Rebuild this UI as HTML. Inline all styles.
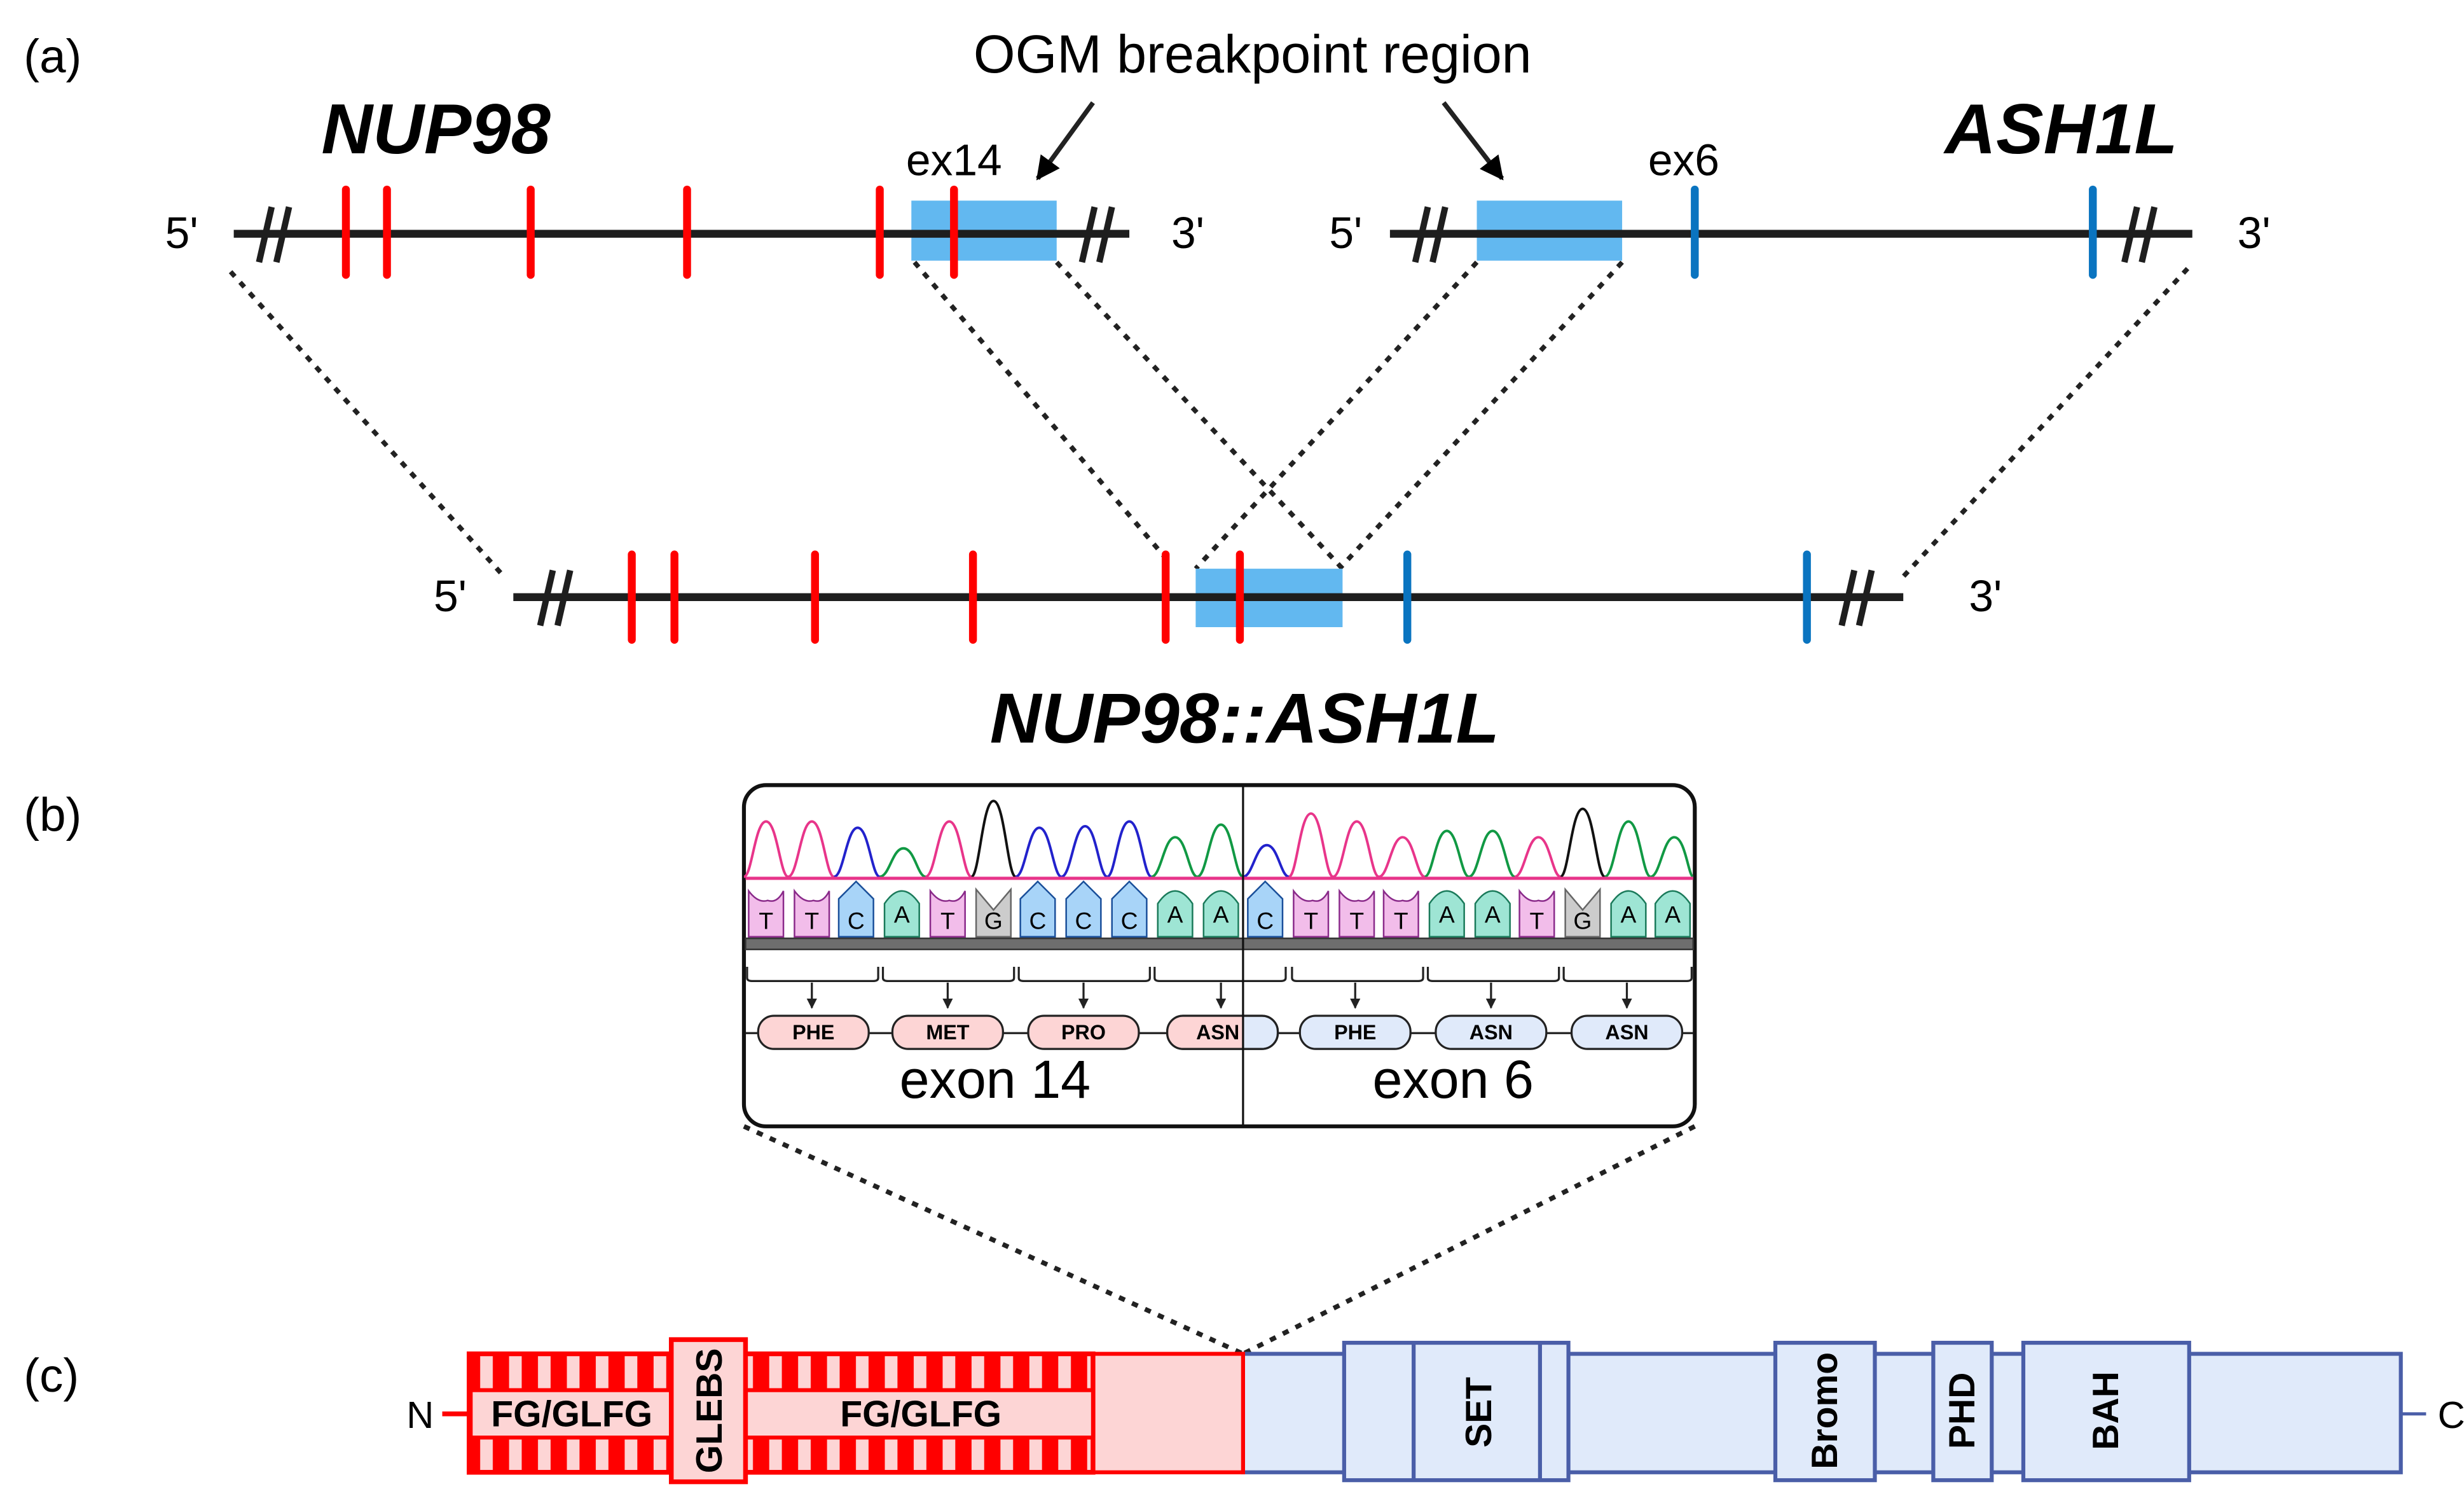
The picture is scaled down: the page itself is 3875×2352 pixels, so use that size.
<!DOCTYPE html>
<html><head><meta charset="utf-8"><style>
html,body{margin:0;padding:0;background:#fff;}
svg{display:block;}
text{font-family:"Liberation Sans",sans-serif;}
</style></head><body>
<svg width="3875" height="2352" viewBox="0 0 1560 947" preserveAspectRatio="none" xmlns="http://www.w3.org/2000/svg">
<defs>
<pattern id="str" x="297" y="0" width="18.3" height="20" patternUnits="userSpaceOnUse">
<rect x="0" y="0" width="18.3" height="20" fill="#ff0000"/>
<rect x="7" y="0" width="8" height="20" fill="#fdd5d5"/>
</pattern>
<marker id="ah" viewBox="0 0 10 10" refX="9" refY="5" markerWidth="5" markerHeight="5" orient="auto"><path d="M0,0 L10,5 L0,10 z" fill="#000"/></marker>
<marker id="ah2" viewBox="0 0 10 10" refX="9" refY="5" markerWidth="5" markerHeight="5" orient="auto"><path d="M0,0 L10,5 L0,10 z" fill="#222"/></marker>
</defs>

<text x="15" y="46" font-size="30">(a)</text>
<text x="15" y="526" font-size="30">(b)</text>
<text x="15" y="881" font-size="30">(c)</text>

<text x="276" y="97" font-size="45" font-weight="bold" font-style="italic" text-anchor="middle">NUP98</text>
<text x="1305" y="97" font-size="45" font-weight="bold" font-style="italic" text-anchor="middle">ASH1L</text>
<text x="793" y="46" font-size="34" text-anchor="middle">OGM breakpoint region</text>
<line x1="692" y1="65" x2="657" y2="113" stroke="#222" stroke-width="3" marker-end="url(#ah)"/>
<line x1="914" y1="65" x2="951" y2="113" stroke="#222" stroke-width="3" marker-end="url(#ah)"/>
<text x="604" y="111" font-size="28" text-anchor="middle">ex14</text>
<text x="1066" y="111" font-size="28" text-anchor="middle">ex6</text>

<g stroke="#222" stroke-width="3" stroke-dasharray="4,5" fill="none">
<line x1="146" y1="172" x2="320" y2="366"/>
<line x1="579" y1="166" x2="742" y2="358"/>
<line x1="669" y1="166" x2="850" y2="360"/>
<line x1="935" y1="166" x2="757" y2="360"/>
<line x1="1027" y1="166" x2="848" y2="360"/>
<line x1="1385" y1="170" x2="1205" y2="365"/>
<line x1="471" y1="713" x2="787" y2="857"/>
<line x1="1073" y1="713" x2="787" y2="857"/>
</g>

<rect x="577" y="127" width="92" height="38" fill="#62b8f0"/>
<line x1="148" y1="148" x2="715" y2="148" stroke="#1e1e1e" stroke-width="5"/>
<g stroke="#ff0000" stroke-width="5" stroke-linecap="round">
<line x1="219" y1="120" x2="219" y2="174"/><line x1="245" y1="120" x2="245" y2="174"/>
<line x1="336" y1="120" x2="336" y2="174"/><line x1="435" y1="120" x2="435" y2="174"/>
<line x1="557" y1="120" x2="557" y2="174"/><line x1="604" y1="120" x2="604" y2="174"/>
</g>
<g stroke="#1e1e1e" stroke-width="4">
<line x1="164" y1="166" x2="172" y2="131"/><line x1="175" y1="166" x2="183" y2="131"/>
<line x1="685" y1="166" x2="693" y2="131"/><line x1="696" y1="166" x2="704" y2="131"/>
</g>
<text x="115" y="157" font-size="28" text-anchor="middle">5'</text>
<text x="752" y="157" font-size="28" text-anchor="middle">3'</text>

<rect x="935" y="127" width="92" height="38" fill="#62b8f0"/>
<line x1="880" y1="148" x2="1388" y2="148" stroke="#1e1e1e" stroke-width="5"/>
<g stroke="#0a74c0" stroke-width="5" stroke-linecap="round">
<line x1="1073" y1="120" x2="1073" y2="174"/><line x1="1325" y1="120" x2="1325" y2="174"/>
</g>
<g stroke="#1e1e1e" stroke-width="4">
<line x1="896" y1="166" x2="904" y2="131"/><line x1="907" y1="166" x2="915" y2="131"/>
<line x1="1345" y1="166" x2="1353" y2="131"/><line x1="1356" y1="166" x2="1364" y2="131"/>
</g>
<text x="852" y="157" font-size="28" text-anchor="middle">5'</text>
<text x="1427" y="157" font-size="28" text-anchor="middle">3'</text>

<rect x="757" y="360" width="93" height="37" fill="#62b8f0"/>
<line x1="325" y1="378" x2="1205" y2="378" stroke="#1e1e1e" stroke-width="5"/>
<g stroke="#ff0000" stroke-width="5" stroke-linecap="round">
<line x1="400" y1="351" x2="400" y2="405"/><line x1="427" y1="351" x2="427" y2="405"/>
<line x1="516" y1="351" x2="516" y2="405"/><line x1="616" y1="351" x2="616" y2="405"/>
<line x1="738" y1="351" x2="738" y2="405"/><line x1="785" y1="351" x2="785" y2="405"/>
</g>
<g stroke="#0a74c0" stroke-width="5" stroke-linecap="round">
<line x1="891" y1="351" x2="891" y2="405"/><line x1="1144" y1="351" x2="1144" y2="405"/>
</g>
<g stroke="#1e1e1e" stroke-width="4">
<line x1="342" y1="396" x2="350" y2="361"/><line x1="353" y1="396" x2="361" y2="361"/>
<line x1="1166" y1="396" x2="1174" y2="361"/><line x1="1177" y1="396" x2="1185" y2="361"/>
</g>
<text x="285" y="387" font-size="28" text-anchor="middle">5'</text>
<text x="1257" y="387" font-size="28" text-anchor="middle">3'</text>
<text x="788" y="470" font-size="45" font-weight="bold" font-style="italic" text-anchor="middle">NUP98::ASH1L</text>

<rect x="471" y="497" width="602" height="216" rx="14" fill="#fff" stroke="#111" stroke-width="2.5"/>
<g fill="none" stroke-width="1.6">
<path d="M471,555 C476,555 478,520 485,520 C492,520 494,555 499,555" stroke="#e8358a"/>
<path d="M499,555 C505,555 507,520 514,520 C521,520 523,555 528,555" stroke="#e8358a"/>
<path d="M528,555 C534,555 536,524 543,524 C550,524 552,555 557,555" stroke="#2222cc"/>
<path d="M557,555 C563,555 565,537 572,537 C579,537 581,555 586,555" stroke="#119944"/>
<path d="M586,555 C592,555 594,520 601,520 C608,520 610,555 615,555" stroke="#e8358a"/>
<path d="M615,555 C620,555 622,507 629,507 C636,507 638,555 643,555" stroke="#111"/>
<path d="M643,555 C649,555 651,524 658,524 C665,524 667,555 672,555" stroke="#2222cc"/>
<path d="M672,555 C678,555 680,523 687,523 C694,523 696,555 701,555" stroke="#2222cc"/>
<path d="M701,555 C706,555 708,520 715,520 C722,520 724,555 729,555" stroke="#2222cc"/>
<path d="M729,555 C735,555 737,530 744,530 C751,530 753,555 758,555" stroke="#119944"/>
<path d="M758,555 C764,555 766,522 773,522 C780,522 782,555 787,555" stroke="#119944"/>
<path d="M787,555 C793,555 795,535 802,535 C809,535 811,555 816,555" stroke="#2222cc"/>
<path d="M816,555 C821,555 823,515 830,515 C837,515 839,555 844,555" stroke="#e8358a"/>
<path d="M844,555 C850,555 852,520 859,520 C866,520 868,555 873,555" stroke="#e8358a"/>
<path d="M873,555 C879,555 881,530 888,530 C895,530 897,555 902,555" stroke="#e8358a"/>
<path d="M902,555 C907,555 909,526 916,526 C923,526 925,555 930,555" stroke="#119944"/>
<path d="M930,555 C936,555 938,526 945,526 C952,526 954,555 959,555" stroke="#119944"/>
<path d="M959,555 C965,555 967,530 974,530 C981,530 983,555 988,555" stroke="#e8358a"/>
<path d="M988,555 C993,555 995,512 1002,512 C1009,512 1011,555 1016,555" stroke="#111"/>
<path d="M1016,555 C1022,555 1024,520 1031,520 C1038,520 1040,555 1045,555" stroke="#119944"/>
<path d="M1045,555 C1051,555 1053,530 1060,530 C1067,530 1069,555 1072,555" stroke="#119944"/>
</g>
<line x1="472" y1="556" x2="1072" y2="556" stroke="#e8358a" stroke-width="2"/>

<g stroke-width="1">
<path d="M474,564 Q480,572 486,570 Q492,572 496,564 V593 H474 Z" fill="#f2bdea" stroke="#8a2a8a"/>
<path d="M503,564 Q509,572 515,570 Q521,572 525,564 V593 H503 Z" fill="#f2bdea" stroke="#8a2a8a"/>
<path d="M531,569 L542,558 L553,569 V593 H531 Z" fill="#a8d4f8" stroke="#1a4f9a"/>
<path d="M560,593 V572 Q571,556 582,572 V593 Z" fill="#9ee5d4" stroke="#1a7a5a"/>
<path d="M589,564 Q595,572 601,570 Q607,572 611,564 V593 H589 Z" fill="#f2bdea" stroke="#8a2a8a"/>
<path d="M618,563 L629,576 L640,563 V593 H618 Z" fill="#cccccc" stroke="#666"/>
<path d="M646,569 L657,558 L668,569 V593 H646 Z" fill="#a8d4f8" stroke="#1a4f9a"/>
<path d="M675,569 L686,558 L697,569 V593 H675 Z" fill="#a8d4f8" stroke="#1a4f9a"/>
<path d="M704,569 L715,558 L726,569 V593 H704 Z" fill="#a8d4f8" stroke="#1a4f9a"/>
<path d="M733,593 V572 Q744,556 755,572 V593 Z" fill="#9ee5d4" stroke="#1a7a5a"/>
<path d="M762,593 V572 Q773,556 784,572 V593 Z" fill="#9ee5d4" stroke="#1a7a5a"/>
<path d="M790,569 L801,558 L812,569 V593 H790 Z" fill="#a8d4f8" stroke="#1a4f9a"/>
<path d="M819,564 Q825,572 831,570 Q837,572 841,564 V593 H819 Z" fill="#f2bdea" stroke="#8a2a8a"/>
<path d="M848,564 Q854,572 860,570 Q866,572 870,564 V593 H848 Z" fill="#f2bdea" stroke="#8a2a8a"/>
<path d="M876,564 Q882,572 888,570 Q894,572 898,564 V593 H876 Z" fill="#f2bdea" stroke="#8a2a8a"/>
<path d="M905,593 V572 Q916,556 927,572 V593 Z" fill="#9ee5d4" stroke="#1a7a5a"/>
<path d="M934,593 V572 Q945,556 956,572 V593 Z" fill="#9ee5d4" stroke="#1a7a5a"/>
<path d="M962,564 Q968,572 974,570 Q980,572 984,564 V593 H962 Z" fill="#f2bdea" stroke="#8a2a8a"/>
<path d="M991,563 L1002,576 L1013,563 V593 H991 Z" fill="#cccccc" stroke="#666"/>
<path d="M1020,593 V572 Q1031,556 1042,572 V593 Z" fill="#9ee5d4" stroke="#1a7a5a"/>
<path d="M1048,593 V572 Q1059,556 1070,572 V593 Z" fill="#9ee5d4" stroke="#1a7a5a"/>
</g>
<g font-size="15" text-anchor="middle" fill="#000">
<text x="485" y="588">T</text><text x="514" y="588">T</text><text x="542" y="588">C</text><text x="571" y="584">A</text>
<text x="600" y="588">T</text><text x="629" y="588">G</text><text x="657" y="588">C</text><text x="686" y="588">C</text>
<text x="715" y="588">C</text><text x="744" y="584">A</text><text x="773" y="584">A</text><text x="801" y="588">C</text>
<text x="830" y="588">T</text><text x="859" y="588">T</text><text x="887" y="588">T</text><text x="916" y="584">A</text>
<text x="945" y="584">A</text><text x="973" y="588">T</text><text x="1002" y="588">G</text><text x="1031" y="584">A</text>
<text x="1059" y="584">A</text>
</g>
<rect x="472" y="594" width="600" height="7" fill="#6e6e6e" stroke="#333" stroke-width="1"/>

<g fill="none" stroke="#222" stroke-width="1.3">
<path d="M473,612 V619 Q473,621 476,621 H553 Q556,621 556,619 V612"/>
<path d="M559,612 V619 Q559,621 562,621 H639 Q642,621 642,619 V612"/>
<path d="M645,612 V619 Q645,621 648,621 H725 Q728,621 728,619 V612"/>
<path d="M731,612 V619 Q731,621 734,621 H811 Q814,621 814,619 V612"/>
<path d="M818,612 V619 Q818,621 821,621 H898 Q901,621 901,619 V612"/>
<path d="M904,612 V619 Q904,621 907,621 H984 Q987,621 987,619 V612"/>
<path d="M990,612 V619 Q990,621 993,621 H1068 Q1071,621 1071,619 V612"/>
</g>
<g stroke="#222" stroke-width="1.3" marker-end="url(#ah2)">
<line x1="514" y1="622" x2="514" y2="638"/><line x1="600" y1="622" x2="600" y2="638"/>
<line x1="686" y1="622" x2="686" y2="638"/><line x1="773" y1="622" x2="773" y2="638"/>
<line x1="858" y1="622" x2="858" y2="638"/><line x1="944" y1="622" x2="944" y2="638"/>
<line x1="1030" y1="622" x2="1030" y2="638"/>
</g>
<line x1="472" y1="654" x2="1072" y2="654" stroke="#222" stroke-width="1.3"/>
<g stroke="#222" stroke-width="1.3">
<rect x="480" y="643" width="70" height="21" rx="10" fill="#fdd5d5"/>
<rect x="565" y="643" width="70" height="21" rx="10" fill="#fdd5d5"/>
<rect x="651" y="643" width="70" height="21" rx="10" fill="#fdd5d5"/>
<rect x="739" y="643" width="70" height="21" rx="10" fill="#e0eafa"/>
<path d="M787,643 H749 Q739,643 739,653.5 Q739,664 749,664 H787 Z" fill="#fdd5d5" stroke="none"/>
<rect x="739" y="643" width="70" height="21" rx="10" fill="none"/>
<rect x="823" y="643" width="70" height="21" rx="10" fill="#e0eafa"/>
<rect x="909" y="643" width="70" height="21" rx="10" fill="#e0eafa"/>
<rect x="995" y="643" width="70" height="21" rx="10" fill="#e0eafa"/>
</g>
<g font-size="13" font-weight="bold" text-anchor="middle">
<text x="515" y="658">PHE</text><text x="600" y="658">MET</text><text x="686" y="658">PRO</text>
<text x="771" y="658">ASN</text><text x="858" y="658">PHE</text><text x="944" y="658">ASN</text><text x="1030" y="658">ASN</text>
</g>
<text x="630" y="695" font-size="34" text-anchor="middle">exon 14</text>
<text x="920" y="695" font-size="34" text-anchor="middle">exon 6</text>
<line x1="787" y1="498" x2="787" y2="713" stroke="#111" stroke-width="1.3"/>

<line x1="280" y1="895" x2="297" y2="895" stroke="#ff0000" stroke-width="3"/>
<text x="266" y="904" font-size="24" text-anchor="middle">N</text>
<line x1="1520" y1="895" x2="1536" y2="895" stroke="#4a5ea8" stroke-width="2"/>
<text x="1552" y="904" font-size="24" text-anchor="middle">C</text>
<rect x="787" y="857" width="733" height="75" fill="#e0eafa" stroke="#4a5ea8" stroke-width="2.5"/>
<g fill="#e0eafa" stroke="#4a5ea8" stroke-width="2.5">
<rect x="851" y="850" width="142" height="87"/>
<line x1="895" y1="850" x2="895" y2="937"/><line x1="975" y1="850" x2="975" y2="937"/>
<rect x="1124" y="850" width="63" height="87"/>
<rect x="1224" y="850" width="37" height="87"/>
<rect x="1281" y="850" width="105" height="87"/>
</g>
<g font-size="23" font-weight="bold" text-anchor="middle">
<text transform="translate(944,894) rotate(-90)" x="0" y="0">SET</text>
<text transform="translate(1163,893) rotate(-90)" x="0" y="0">Bromo</text>
<text transform="translate(1250,893) rotate(-90)" x="0" y="0">PHD</text>
<text transform="translate(1341,893) rotate(-90)" x="0" y="0">BAH</text>
</g>
<rect x="297" y="857" width="490" height="75" fill="#fdd5d5" stroke="#ff0000" stroke-width="2.5"/>
<rect x="297" y="857" width="395" height="23" fill="url(#str)"/>
<rect x="297" y="910" width="395" height="22" fill="url(#str)"/>
<rect x="297" y="857" width="395" height="75" fill="none" stroke="#ff0000" stroke-width="3"/>
<rect x="298" y="880" width="127" height="30" fill="#fdd5d5" stroke="#ff0000" stroke-width="2.5"/>
<rect x="472" y="880" width="220" height="30" fill="#fdd5d5" stroke="#ff0000" stroke-width="2.5"/>
<rect x="425" y="848" width="47" height="90" fill="#fdd5d5" stroke="#ff0000" stroke-width="3"/>
<g font-size="23" font-weight="bold" text-anchor="middle">
<text x="362" y="903">FG/GLFG</text>
<text x="583" y="903">FG/GLFG</text>
<text transform="translate(457,893) rotate(-90)" x="0" y="0">GLEBS</text>
</g>
</svg>
</body></html>
